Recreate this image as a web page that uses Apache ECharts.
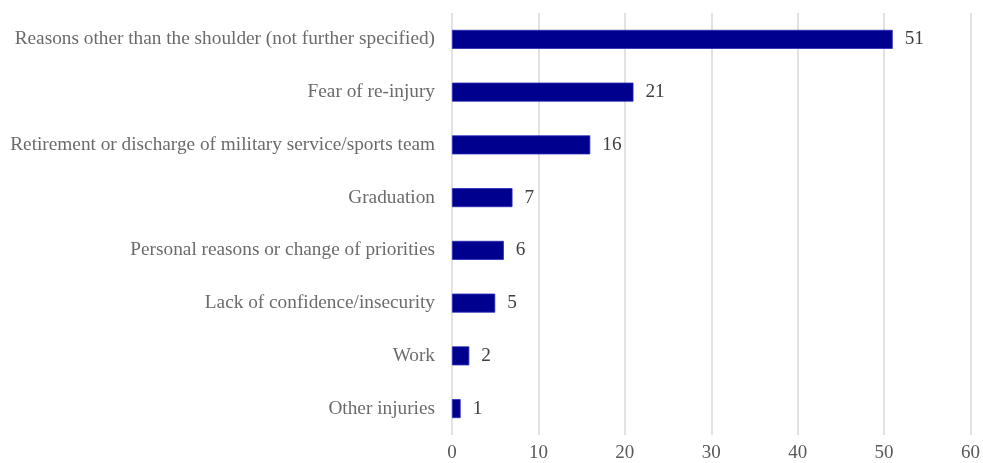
<!DOCTYPE html>
<html>
<head>
<meta charset="utf-8">
<style>
  html, body { margin: 0; padding: 0; background: #fff; }
  #chart { width: 983px; height: 463px; }
</style>
<script src="https://cdn.jsdelivr.net/npm/echarts@6/dist/echarts.min.js"></script>
</head>
<body>
<div id="chart"></div>
<script>
// Reasons for not returning, listed top to bottom
const categories = [
  'Reasons other than the shoulder (not further specified)',
  'Fear of re-injury',
  'Retirement or discharge of military service/sports team',
  'Graduation',
  'Personal reasons or change of priorities',
  'Lack of confidence/insecurity',
  'Work',
  'Other injuries'
];
const counts = [51, 21, 16, 7, 6, 5, 2, 1];
const xTicks = { min: 0, max: 60, step: 10 };

const font = '"Liberation Serif", "Times New Roman", serif';
const chart = echarts.init(document.getElementById('chart'));

chart.setOption({
  animation: false,
  grid: { left: 452, right: 10, top: 13, bottom: 28, containLabel: false },
  xAxis: {
    type: 'value',
    min: xTicks.min,
    max: xTicks.max,
    interval: xTicks.step,
    axisLine: { show: false },
    axisTick: { show: false },
    splitLine: { lineStyle: { color: '#d9d9d9', width: 1.5 } },
    axisLabel: { color: '#595959', fontFamily: font, fontSize: 19, margin: 9 }
  },
  yAxis: {
    type: 'category',
    inverse: true,
    data: categories,
    axisLine: { show: false },
    axisTick: { show: false },
    axisLabel: { color: '#6b6b6b', fontFamily: font, fontSize: 19.3, margin: 17 }
  },
  series: [{
    type: 'bar',
    data: counts,
    barWidth: '36%',
    itemStyle: { color: '#00008f', borderColor: '#2a2ab8', borderWidth: 0.8 },
    label: {
      show: true,
      position: 'right',
      distance: 12,
      color: '#404040',
      fontFamily: font,
      fontSize: 19.3
    }
  }]
});
</script>
</body>
</html>
